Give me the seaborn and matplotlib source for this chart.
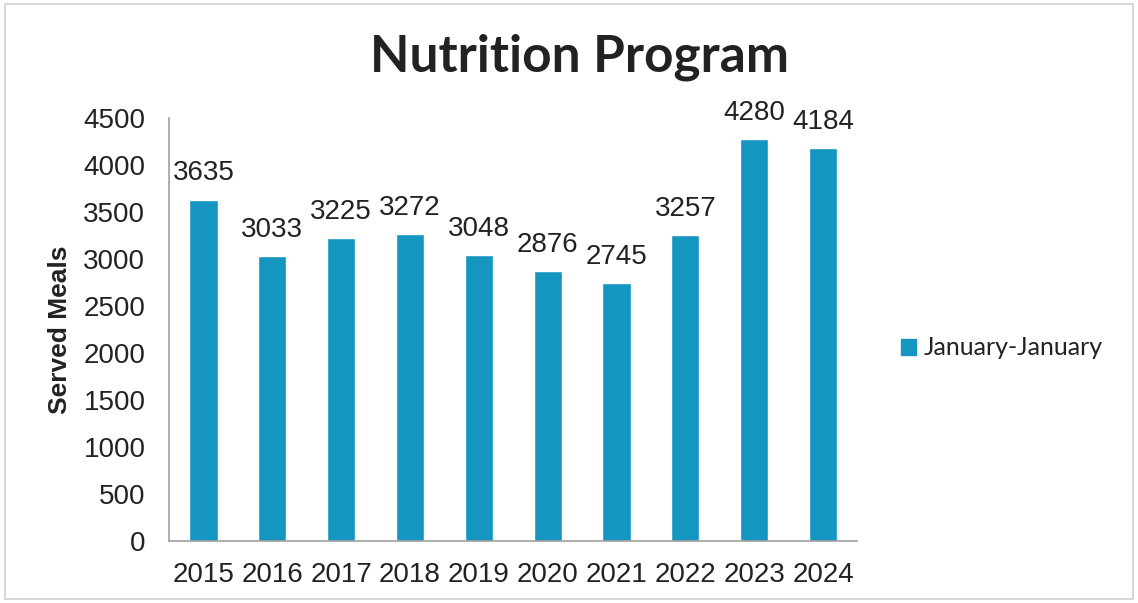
import matplotlib
matplotlib.use("Agg")
import matplotlib.pyplot as plt
import seaborn as sns
import pandas as pd
from matplotlib.patches import Patch

# chart values
years = ["2015", "2016", "2017", "2018", "2019", "2020", "2021", "2022", "2023", "2024"]
meals = [3635, 3033, 3225, 3272, 3048, 2876, 2745, 3257, 4280, 4184]
series_name = "January-January"

df = pd.DataFrame({"Year": years, "Meals": meals})
bar_color = "#1596c1"
text_color = "#222222"

sns.set_style("white")
plt.rcParams["font.family"] = ["Liberation Sans", "DejaVu Sans"]

fig = plt.figure(figsize=(11.38, 6.03), dpi=100)
ax = fig.add_axes([0.1485, 0.1028, 0.605, 0.701])

sns.barplot(data=df, x="Year", y="Meals", color=bar_color, width=0.41,
            saturation=1, ax=ax)

for i, v in enumerate(meals):
    ax.text(i, v + 140, str(v), ha="center", va="bottom", fontsize=20, color=text_color)

ax.set_ylim(0, 4500)
ax.set_yticks(range(0, 4501, 500))
ax.set_xlim(-0.5, len(years) - 0.5)
ax.set_xticks([x - 0.5 for x in range(len(years) + 1)], minor=True)
ax.tick_params(axis="x", which="major", length=0, labelsize=20, pad=15, labelcolor=text_color)
ax.tick_params(axis="x", which="minor", length=6, color="#a0a0a0", width=1.2)
ax.tick_params(axis="y", length=7, color="#a0a0a0", width=1.2, labelsize=20, pad=10,
               labelcolor=text_color)
ax.set_xlabel("")
ax.set_ylabel("Served Meals", fontsize=19, fontweight="bold", labelpad=8, color=text_color)

for s in ["top", "right"]:
    ax.spines[s].set_visible(False)
for s in ["left", "bottom"]:
    ax.spines[s].set_color("#a0a0a0")
    ax.spines[s].set_linewidth(1.2)

fig.text(0.5095, 0.905, "Nutrition Program", ha="center", va="center",
         fontsize=37, fontweight="bold", family=["Lato", "DejaVu Sans"], color=text_color)

fig.legend(handles=[Patch(color=bar_color, label=series_name)],
           loc="center left", bbox_to_anchor=(0.772, 0.423), frameon=False,
           handlelength=0.6, handleheight=0.6, handletextpad=0.3,
           labelcolor=text_color,
           prop={"family": ["Lato", "DejaVu Sans"], "size": 18})

# light frame around the chart area
fig.patches.append(plt.Rectangle((0.004, 0.006), 0.992, 0.988, transform=fig.transFigure,
                                 fill=False, edgecolor="#d0d0d0", linewidth=1.2))

fig.savefig("out.png", dpi=100)
